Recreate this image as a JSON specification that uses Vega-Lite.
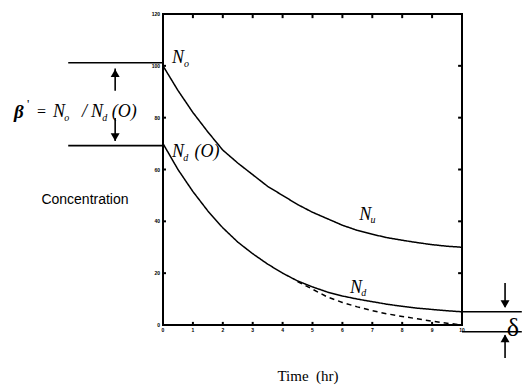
{
  "$schema": "https://vega.github.io/schema/vega-lite/v6.json",
  "autosize": {"type": "none"},
  "width": 299,
  "height": 311,
  "padding": {"left": 163, "top": 14, "right": 60, "bottom": 60},
  "background": "white",
  "config": {
    "view": {"stroke": "black", "strokeWidth": 2}
  },
  "datasets": {
    "curves": [
      {"t": 0, "c": 100, "s": "Nu"}, {"t": 0.5, "c": 90.5, "s": "Nu"}, {"t": 1, "c": 82, "s": "Nu"}, {"t": 1.5, "c": 74.5, "s": "Nu"}, {"t": 2, "c": 67.5, "s": "Nu"}, {"t": 2.5, "c": 62.5, "s": "Nu"}, {"t": 3, "c": 58, "s": "Nu"}, {"t": 3.5, "c": 53.5, "s": "Nu"}, {"t": 4, "c": 50, "s": "Nu"}, {"t": 4.5, "c": 46.5, "s": "Nu"}, {"t": 5, "c": 43.5, "s": "Nu"}, {"t": 5.5, "c": 41, "s": "Nu"}, {"t": 6, "c": 38.5, "s": "Nu"}, {"t": 6.5, "c": 36.5, "s": "Nu"}, {"t": 7, "c": 35, "s": "Nu"}, {"t": 7.5, "c": 33.7, "s": "Nu"}, {"t": 8, "c": 32.7, "s": "Nu"}, {"t": 8.5, "c": 31.8, "s": "Nu"}, {"t": 9, "c": 31, "s": "Nu"}, {"t": 9.5, "c": 30.4, "s": "Nu"}, {"t": 10, "c": 30, "s": "Nu"},
      {"t": 0, "c": 70, "s": "Nd"}, {"t": 0.5, "c": 60, "s": "Nd"}, {"t": 1, "c": 51.5, "s": "Nd"}, {"t": 1.5, "c": 44, "s": "Nd"}, {"t": 2, "c": 37.5, "s": "Nd"}, {"t": 2.5, "c": 32, "s": "Nd"}, {"t": 3, "c": 27.5, "s": "Nd"}, {"t": 3.5, "c": 23.5, "s": "Nd"}, {"t": 4, "c": 20, "s": "Nd"}, {"t": 4.5, "c": 17, "s": "Nd"}, {"t": 5, "c": 14.7, "s": "Nd"}, {"t": 5.5, "c": 12.7, "s": "Nd"}, {"t": 6, "c": 11.2, "s": "Nd"}, {"t": 6.5, "c": 10, "s": "Nd"}, {"t": 7, "c": 9, "s": "Nd"}, {"t": 7.5, "c": 8, "s": "Nd"}, {"t": 8, "c": 7.2, "s": "Nd"}, {"t": 8.5, "c": 6.5, "s": "Nd"}, {"t": 9, "c": 6, "s": "Nd"}, {"t": 9.5, "c": 5.5, "s": "Nd"}, {"t": 10, "c": 5.1, "s": "Nd"},
      {"t": 4.5, "c": 16.8, "s": "Ndash"}, {"t": 5, "c": 13.8, "s": "Ndash"}, {"t": 5.5, "c": 10.8, "s": "Ndash"}, {"t": 6, "c": 8.7, "s": "Ndash"}, {"t": 6.5, "c": 7, "s": "Ndash"}, {"t": 7, "c": 5.5, "s": "Ndash"}, {"t": 7.5, "c": 4.3, "s": "Ndash"}, {"t": 8, "c": 3.3, "s": "Ndash"}, {"t": 8.5, "c": 2.4, "s": "Ndash"}, {"t": 9, "c": 1.5, "s": "Ndash"}, {"t": 9.5, "c": 0.7, "s": "Ndash"}, {"t": 10, "c": 0, "s": "Ndash"}
    ],
    "xticks": [{"t": 0}, {"t": 1}, {"t": 2}, {"t": 3}, {"t": 4}, {"t": 5}, {"t": 6}, {"t": 7}, {"t": 8}, {"t": 9}, {"t": 10}],
    "yticks": [{"c": 0}, {"c": 20}, {"c": 40}, {"c": 60}, {"c": 80}, {"c": 100}, {"c": 120}],
    "segs": [
      {"x": -3.17, "x2": 0, "y": 101.2, "y2": 101.2},
      {"x": -3.17, "x2": 0, "y": 69.2, "y2": 69.2},
      {"x": 10, "x2": 12, "y": 5.1, "y2": 5.1},
      {"x": 10, "x2": 12, "y": -2.6, "y2": -2.6},
      {"x": -1.6, "x2": -1.6, "y": 90.4, "y2": 99},
      {"x": -1.6, "x2": -1.6, "y": 79.9, "y2": 71},
      {"x": 11.44, "x2": 11.44, "y": 16.2, "y2": 7},
      {"x": 11.44, "x2": 11.44, "y": -12.7, "y2": -4}
    ],
    "heads": [
      {"x": -1.6, "y": 97.2, "dir": "up"},
      {"x": -1.6, "y": 72.5, "dir": "down"},
      {"x": 11.44, "y": 8.1, "dir": "down"},
      {"x": 11.44, "y": -5.2, "dir": "up"}
    ],
    "bigtext": [
      {"x": -3.68, "y": 82.2, "label": "N"},
      {"x": -2.71, "y": 82.2, "label": "/"},
      {"x": -2.41, "y": 82.2, "label": "N"},
      {"x": -1.71, "y": 82.2, "label": "(O)"},
      {"x": 0.3, "y": 103, "label": "N"},
      {"x": 0.3, "y": 66.7, "label": "N"},
      {"x": 1.05, "y": 66.7, "label": "(O)"},
      {"x": 6.56, "y": 42.4, "label": "N"},
      {"x": 6.25, "y": 14.3, "label": "N"}
    ],
    "subtext": [
      {"x": -3.3, "y": 80.0, "label": "o"},
      {"x": -2.03, "y": 80.0, "label": "d"},
      {"x": 0.7, "y": 100.9, "label": "o"},
      {"x": 0.68, "y": 64.6, "label": "d"},
      {"x": 6.94, "y": 40.7, "label": "u"},
      {"x": 6.63, "y": 12.5, "label": "d"}
    ]
  },
  "layer": [
    {
      "data": {"name": "curves"},
      "mark": {"type": "line", "color": "black", "strokeWidth": 1.5},
      "encoding": {
        "x": {"field": "t", "type": "quantitative", "scale": {"domain": [0, 10], "nice": false}, "axis": null},
        "y": {"field": "c", "type": "quantitative", "scale": {"domain": [0, 120], "nice": false}, "axis": null},
        "detail": {"field": "s"},
        "strokeDash": {"field": "s", "type": "nominal", "scale": {"domain": ["Nu", "Nd", "Ndash"], "range": [[1, 0], [1, 0], [5, 4]]}, "legend": null}
      }
    },
    {
      "data": {"name": "xticks"},
      "mark": {"type": "rule", "color": "black", "strokeWidth": 2},
      "encoding": {
        "x": {"field": "t", "type": "quantitative", "axis": null},
        "y": {"datum": 120, "type": "quantitative", "axis": null},
        "y2": {"datum": 118.4}
      }
    },
    {
      "data": {"name": "xticks"},
      "mark": {"type": "rule", "color": "black", "strokeWidth": 2},
      "encoding": {
        "x": {"field": "t", "type": "quantitative", "axis": null},
        "y": {"datum": 0, "type": "quantitative", "axis": null},
        "y2": {"datum": 1.2}
      }
    },
    {
      "data": {"name": "xticks"},
      "mark": {"type": "text", "font": "Liberation Sans", "fontWeight": "bold", "fontSize": 5, "align": "center", "baseline": "top", "dy": 3, "color": "black"},
      "encoding": {
        "x": {"field": "t", "type": "quantitative", "axis": null},
        "y": {"datum": 0, "type": "quantitative", "axis": null},
        "text": {"field": "t", "type": "quantitative"}
      }
    },
    {
      "data": {"name": "yticks"},
      "mark": {"type": "rule", "color": "black", "strokeWidth": 2},
      "encoding": {
        "y": {"field": "c", "type": "quantitative", "axis": null},
        "x": {"datum": 10, "type": "quantitative", "axis": null},
        "x2": {"datum": 9.87}
      }
    },
    {
      "data": {"name": "yticks"},
      "mark": {"type": "rule", "color": "black", "strokeWidth": 2},
      "encoding": {
        "y": {"field": "c", "type": "quantitative", "axis": null},
        "x": {"datum": 0, "type": "quantitative", "axis": null},
        "x2": {"datum": 0.1}
      }
    },
    {
      "data": {"name": "yticks"},
      "mark": {"type": "text", "font": "Liberation Sans", "fontWeight": "bold", "fontSize": 5, "align": "right", "baseline": "middle", "dx": -3, "color": "black"},
      "encoding": {
        "y": {"field": "c", "type": "quantitative", "axis": null},
        "x": {"datum": 0, "type": "quantitative", "axis": null},
        "text": {"field": "c", "type": "quantitative"}
      }
    },
    {
      "data": {"name": "segs"},
      "mark": {"type": "rule", "color": "black", "strokeWidth": 1.6},
      "encoding": {
        "x": {"field": "x", "type": "quantitative", "axis": null},
        "x2": {"field": "x2"},
        "y": {"field": "y", "type": "quantitative", "axis": null},
        "y2": {"field": "y2"}
      }
    },
    {
      "data": {"name": "heads"},
      "transform": [{"filter": "datum.dir === 'up'"}],
      "mark": {"type": "point", "shape": "triangle-up", "filled": true, "color": "black", "size": 80, "opacity": 1},
      "encoding": {
        "x": {"field": "x", "type": "quantitative", "axis": null},
        "y": {"field": "y", "type": "quantitative", "axis": null}
      }
    },
    {
      "data": {"name": "heads"},
      "transform": [{"filter": "datum.dir === 'down'"}],
      "mark": {"type": "point", "shape": "triangle-down", "filled": true, "color": "black", "size": 80, "opacity": 1},
      "encoding": {
        "x": {"field": "x", "type": "quantitative", "axis": null},
        "y": {"field": "y", "type": "quantitative", "axis": null}
      }
    },
    {
      "data": {"name": "bigtext"},
      "mark": {"type": "text", "font": "Liberation Serif", "fontStyle": "italic", "fontSize": 18, "align": "left", "baseline": "middle", "color": "black"},
      "encoding": {
        "x": {"field": "x", "type": "quantitative", "axis": null},
        "y": {"field": "y", "type": "quantitative", "axis": null},
        "text": {"field": "label"}
      }
    },
    {
      "data": {"name": "subtext"},
      "mark": {"type": "text", "font": "Liberation Serif", "fontStyle": "italic", "fontSize": 10, "align": "left", "baseline": "middle", "color": "black"},
      "encoding": {
        "x": {"field": "x", "type": "quantitative", "axis": null},
        "y": {"field": "y", "type": "quantitative", "axis": null},
        "text": {"field": "label"}
      }
    },
    {
      "data": {"values": [{"x": -4.98, "y": 82.2, "label": "β"}]},
      "mark": {"type": "text", "font": "Liberation Serif", "fontStyle": "italic", "fontWeight": "bold", "fontSize": 19, "align": "left", "baseline": "middle", "color": "black"},
      "encoding": {
        "x": {"field": "x", "type": "quantitative", "axis": null},
        "y": {"field": "y", "type": "quantitative", "axis": null},
        "text": {"field": "label"}
      }
    },
    {
      "data": {"values": [{"x": -4.55, "y": 85.2, "label": "'"}]},
      "mark": {"type": "text", "font": "Liberation Serif", "fontSize": 13, "align": "left", "baseline": "middle", "color": "black"},
      "encoding": {
        "x": {"field": "x", "type": "quantitative", "axis": null},
        "y": {"field": "y", "type": "quantitative", "axis": null},
        "text": {"field": "label"}
      }
    },
    {
      "data": {"values": [{"x": -4.21, "y": 82.2, "label": "="}]},
      "mark": {"type": "text", "font": "Liberation Serif", "fontSize": 16, "align": "left", "baseline": "middle", "color": "black"},
      "encoding": {
        "x": {"field": "x", "type": "quantitative", "axis": null},
        "y": {"field": "y", "type": "quantitative", "axis": null},
        "text": {"field": "label"}
      }
    },
    {
      "data": {"values": [{"x": -2.61, "y": 48.2, "label": "Concentration"}]},
      "mark": {"type": "text", "font": "Liberation Sans", "fontSize": 14, "align": "center", "baseline": "middle", "color": "black"},
      "encoding": {
        "x": {"field": "x", "type": "quantitative", "axis": null},
        "y": {"field": "y", "type": "quantitative", "axis": null},
        "text": {"field": "label"}
      }
    },
    {
      "data": {"values": [{"x": 4.85, "y": -19.7, "label": "Time\u00a0\u00a0(hr)"}]},
      "mark": {"type": "text", "font": "Liberation Serif", "fontSize": 15, "align": "center", "baseline": "middle", "color": "black"},
      "encoding": {
        "x": {"field": "x", "type": "quantitative", "axis": null},
        "y": {"field": "y", "type": "quantitative", "axis": null},
        "text": {"field": "label"}
      }
    },
    {
      "data": {"values": [{"x": 11.5, "y": -1.2, "label": "δ"}]},
      "mark": {"type": "text", "font": "Liberation Serif", "fontSize": 26, "align": "left", "baseline": "middle", "color": "black"},
      "encoding": {
        "x": {"field": "x", "type": "quantitative", "axis": null},
        "y": {"field": "y", "type": "quantitative", "axis": null},
        "text": {"field": "label"}
      }
    }
  ]
}
